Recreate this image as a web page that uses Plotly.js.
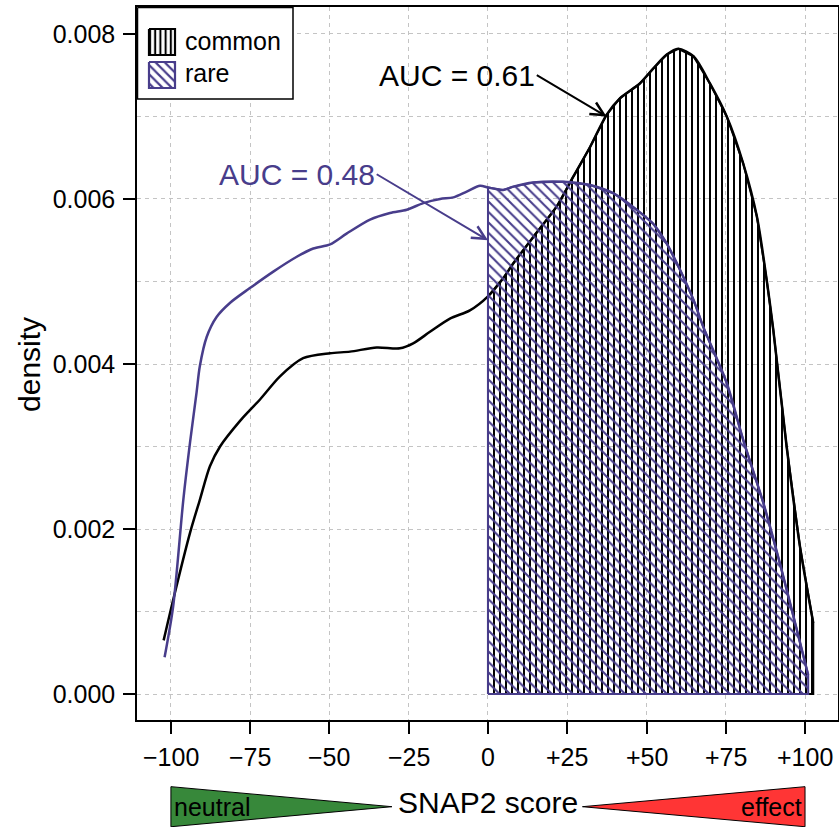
<!DOCTYPE html>
<html><head><meta charset="utf-8">
<script src="https://cdn.plot.ly/plotly-3.0.1.min.js"></script>
<style>html,body{margin:0;padding:0;background:#fff}#chart{width:839px;height:827px}</style>
</head><body><div id="chart"></div>
<script>
// SNAP2 score density, common variants
const commonX = [-102.3,-99.3,-94.0,-90.9,-87.7,-84.5,-78.2,-75.1,-71.9,-65.6,-58.3,-49.8,-43.5,-35.1,-27.8,-23.6,-18.3,-12.0,-5.7,0,4.8,8.0,14.3,21.7,26.9,32.2,37.4,41.6,47.9,52.1,56.4,60.0,64.8,70.0,75.3,80.5,84.8,87.9,90.0,94.2,98.4,102.6];
const commonY = [0.00065,0.00114,0.00195,0.00235,0.00276,0.00300,0.00331,0.00344,0.00357,0.00385,0.00407,0.00413,0.00415,0.00420,0.00419,0.00425,0.00439,0.00455,0.00465,0.00482,0.00504,0.00522,0.00554,0.00591,0.00627,0.00663,0.00702,0.00722,0.00740,0.00758,0.00775,0.00782,0.00773,0.00740,0.00700,0.00643,0.00579,0.00502,0.00441,0.00300,0.00179,0.00086];
// SNAP2 score density, rare variants
const rareX = [-102.0,-99.3,-96.1,-94.0,-91.9,-90.9,-88.7,-85.6,-81.4,-75.1,-67.7,-60.3,-55.1,-49.8,-44.6,-37.2,-30.9,-25.6,-20.4,-15.1,-10.9,-6.7,-2.5,0,4.8,8.0,14.3,23.8,32.2,39.5,46.9,52.1,56.4,60.6,64.8,67.9,75.3,80.5,86.9,92.1,97.4,101.0];
const rareY = [0.000445,0.00106,0.00235,0.00304,0.00366,0.00397,0.00433,0.00457,0.00474,0.00492,0.00512,0.00530,0.00540,0.00545,0.00558,0.00575,0.00583,0.00587,0.00595,0.00600,0.00602,0.00609,0.00616,0.00614,0.00611,0.00615,0.00620,0.00621,0.00617,0.00607,0.00587,0.00570,0.00546,0.00514,0.00478,0.00445,0.00377,0.00308,0.00231,0.00158,0.00078,0.00023];

const groupNames = ['common','rare'];
const aucText = ['AUC = 0.61','AUC = 0.48'];
const xTickVals = [-100,-75,-50,-25,0,25,50,75,100];
const xTickText = ['\u2212100','\u221275','\u221250','\u221225','0','+25','+50','+75','+100'];
const yTickVals = [0,0.002,0.004,0.006,0.008];
const yTickText = ['0.000','0.002','0.004','0.006','0.008'];
const scaleLabels = ['neutral','SNAP2 score','effect'];

const BLACK = '#000000';
const PURPLE = '#483D8B';
const FONT = 'Liberation Sans, Arial, Helvetica, sans-serif';
const CLEAR = 'rgba(0,0,0,0)';

const patCommon = {shape: '|', size: 6, solidity: 0.33, fgcolor: BLACK, bgcolor: CLEAR};
const patRare = {shape: '\\', size: 7.4, solidity: 0.28, fgcolor: PURPLE, bgcolor: CLEAR};

function region(xs, ys) {
  const px = [0], py = [0];
  for (let i = 0; i < xs.length; i++) {
    if (xs[i] >= 0) { px.push(xs[i]); py.push(ys[i]); }
  }
  px.push(xs[xs.length - 1]); py.push(0);
  px.push(0); py.push(0);
  return {x: px, y: py};
}
const rc = region(commonX, commonY);
const rr = region(rareX, rareY);

// legend frame drawn on an overlay axis measured in pixels (x2: left->right, y2: top->bottom)
function box(x0, y0, x1, y1) { return {x: [x0, x1, x1, x0, x0], y: [y0, y0, y1, y1, y0]}; }
const lgFrame = box(137.5, 7.5, 293, 99);
const lgSw1 = box(149, 29, 175, 55);
const lgSw2 = box(149, 62, 175, 88);

const traces = [
  {x: rc.x, y: rc.y, type: 'scatter', mode: 'lines', fill: 'toself', showlegend: false,
   line: {color: BLACK, width: 2}, fillcolor: CLEAR, fillpattern: patCommon, hoverinfo: 'skip'},
  {x: commonX, y: commonY, type: 'scatter', mode: 'lines', showlegend: false,
   line: {color: BLACK, width: 2.5, shape: 'spline', smoothing: 0.8}, hoverinfo: 'skip'},
  {x: rr.x, y: rr.y, type: 'scatter', mode: 'lines', fill: 'toself', showlegend: false,
   line: {color: PURPLE, width: 2}, fillcolor: CLEAR, fillpattern: patRare, hoverinfo: 'skip'},
  {x: rareX, y: rareY, type: 'scatter', mode: 'lines', showlegend: false,
   line: {color: PURPLE, width: 2.5, shape: 'spline', smoothing: 0.8}, hoverinfo: 'skip'},
  {x: lgFrame.x, y: lgFrame.y, xaxis: 'x2', yaxis: 'y2', type: 'scatter', mode: 'lines', fill: 'toself',
   fillcolor: '#ffffff', line: {color: BLACK, width: 1.5}, showlegend: false, hoverinfo: 'skip'},
  {x: lgSw1.x, y: lgSw1.y, xaxis: 'x2', yaxis: 'y2', type: 'scatter', mode: 'lines', fill: 'toself',
   fillcolor: CLEAR, fillpattern: {shape: '|', size: 5.2, solidity: 0.4, fgcolor: BLACK, bgcolor: CLEAR},
   line: {color: BLACK, width: 2.2}, showlegend: false, hoverinfo: 'skip'},
  {x: lgSw2.x, y: lgSw2.y, xaxis: 'x2', yaxis: 'y2', type: 'scatter', mode: 'lines', fill: 'toself',
   fillcolor: CLEAR, fillpattern: {shape: '\\', size: 6.5, solidity: 0.33, fgcolor: PURPLE, bgcolor: CLEAR},
   line: {color: PURPLE, width: 2.2}, showlegend: false, hoverinfo: 'skip'}
];

const gridCol = '#c4c4c4';

const annotations = [
  {x: 37.4, y: 0.00700, ax: 15.4, ay: 0.00750, axref: 'x', ayref: 'y', xref: 'x', yref: 'y',
   text: aucText[0], showarrow: true, xanchor: 'right', yanchor: 'middle',
   arrowhead: 5, arrowsize: 1.3, arrowwidth: 2, arrowcolor: BLACK,
   font: {size: 30, color: BLACK}},
  {x: 0, y: 0.00550, ax: -35.1, ay: 0.00630, axref: 'x', ayref: 'y', xref: 'x', yref: 'y',
   text: aucText[1], showarrow: true, xanchor: 'right', yanchor: 'middle',
   arrowhead: 5, arrowsize: 1.3, arrowwidth: 2, arrowcolor: PURPLE,
   font: {size: 30, color: PURPLE}},
  {x: -0.1526, y: 0.498, xref: 'paper', yref: 'paper', text: 'density', textangle: -90,
   showarrow: false, font: {size: 30}, xanchor: 'center', yanchor: 'middle'},
  {x: -99.6, y: -0.1216, xref: 'x', yref: 'paper', text: scaleLabels[0], showarrow: false,
   xanchor: 'left', yanchor: 'middle', font: {size: 25}},
  {x: 0, y: -0.1164, xref: 'x', yref: 'paper', text: scaleLabels[1], showarrow: false,
   xanchor: 'center', yanchor: 'middle', font: {size: 30}},
  {x: 99.6, y: -0.1216, xref: 'x', yref: 'paper', text: scaleLabels[2], showarrow: false,
   xanchor: 'right', yanchor: 'middle', font: {size: 25}},
  {x: 183, y: 41, xref: 'x2', yref: 'y2', text: groupNames[0], showarrow: false,
   xanchor: 'left', yanchor: 'middle', font: {size: 25}},
  {x: 183, y: 73, xref: 'x2', yref: 'y2', text: groupNames[1], showarrow: false,
   xanchor: 'left', yanchor: 'middle', font: {size: 25}}
];
// x tick labels placed under each tick
xTickVals.forEach((v, i) => annotations.push({
  x: v, y: -0.0519, xref: 'x', yref: 'paper', text: xTickText[i], showarrow: false,
  xanchor: 'center', yanchor: 'middle', font: {size: 25}
}));

const shapes = [
  {type: 'path', xref: 'x', yref: 'paper', path: 'M -100,-0.0935 L -100,-0.1497 L -30.3,-0.1216 Z',
   fillcolor: '#37883a', line: {color: '#000', width: 1}, layer: 'above'},
  {type: 'path', xref: 'x', yref: 'paper', path: 'M 100,-0.0935 L 100,-0.1497 L 29.8,-0.1216 Z',
   fillcolor: '#ff3535', line: {color: '#000', width: 1}, layer: 'above'}
];

const layout = {
  width: 839, height: 827,
  margin: {l: 137, r: 1, t: 7, b: 107, pad: 0},
  paper_bgcolor: '#ffffff', plot_bgcolor: '#ffffff',
  font: {family: FONT, size: 25, color: '#000'},
  showlegend: false,
  xaxis: {range: [-110.7, 110.4], tickmode: 'array', tickvals: xTickVals, showticklabels: false,
          ticks: 'outside', ticklen: 12, tickwidth: 1.6, tickcolor: '#000',
          showline: true, linecolor: '#000', linewidth: 1.5, mirror: true,
          showgrid: true, gridcolor: gridCol, griddash: '4px,4px', gridwidth: 1,
          zeroline: false, automargin: false, fixedrange: true},
  yaxis: {range: [-0.000315, 0.008327], tickmode: 'array', tickvals: yTickVals, ticktext: yTickText,
          ticks: 'outside', ticklen: 12, tickwidth: 1.6, tickcolor: '#000',
          showline: true, linecolor: '#000', linewidth: 1.5, mirror: true,
          showgrid: true, gridcolor: gridCol, griddash: '4px,4px', gridwidth: 1,
          minor: {tickmode: 'linear', tick0: 0, dtick: 0.001, showgrid: true, gridcolor: gridCol,
                  griddash: '4px,4px', gridwidth: 1, ticks: ''},
          zeroline: false, automargin: false, tickfont: {size: 25}, ticklabelstandoff: 3, fixedrange: true},
  xaxis2: {overlaying: 'x', range: [137, 838], visible: false, fixedrange: true},
  yaxis2: {overlaying: 'y', range: [720, 7], visible: false, fixedrange: true},
  annotations: annotations,
  shapes: shapes
};

Plotly.newPlot('chart', traces, layout, {displayModeBar: false, responsive: false});
</script>
</body></html>
